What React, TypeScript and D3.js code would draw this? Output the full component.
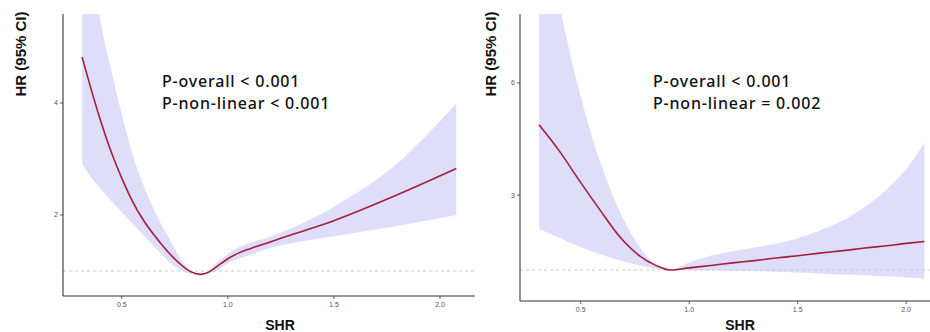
import React from "react";
import * as d3 from "d3";

// ---------- data ----------
const leftX = [0.313, 0.35, 0.394, 0.45, 0.5, 0.55, 0.6, 0.657, 0.728, 0.79, 0.83, 0.87, 0.91, 0.948, 1.0, 1.05, 1.105, 1.2, 1.31, 1.5, 1.78, 2.077];
const leftHR = [4.82, 4.32, 3.76, 3.13, 2.66, 2.25, 1.92, 1.62, 1.3, 1.08, 0.98, 0.94, 0.98, 1.08, 1.22, 1.32, 1.4, 1.52, 1.66, 1.9, 2.33, 2.83];
const leftUpper = [8.5, 7.0, 5.6, 4.6, 3.8, 3.1, 2.55, 2.05, 1.55, 1.15, 1.0, 0.95, 1.0, 1.15, 1.3, 1.42, 1.5, 1.61, 1.78, 2.15, 2.86, 3.99];
const leftLower = [2.92, 2.7, 2.5, 2.25, 2.05, 1.85, 1.65, 1.42, 1.15, 0.99, 0.94, 0.92, 0.96, 1.0, 1.14, 1.22, 1.29, 1.41, 1.5, 1.62, 1.79, 2.0];

const rightX = [0.308, 0.405, 0.497, 0.589, 0.681, 0.773, 0.843, 0.912, 1.0, 1.1, 1.2, 1.3, 1.4, 1.5, 1.6, 1.7, 1.8, 1.9, 2.0, 2.084];
const rightHR = [4.88, 4.15, 3.36, 2.6, 1.88, 1.37, 1.13, 1.0, 1.057, 1.12, 1.19, 1.25, 1.32, 1.38, 1.45, 1.51, 1.58, 1.64, 1.71, 1.76];
const rightUpper = [11.0, 8.0, 5.7, 3.9, 2.55, 1.6, 1.15, 1.0, 1.2, 1.38, 1.5, 1.6, 1.7, 1.85, 2.05, 2.3, 2.65, 3.1, 3.7, 4.4];
const rightLower = [2.1, 1.85, 1.62, 1.42, 1.25, 1.12, 1.04, 1.0, 0.99, 0.985, 0.98, 0.97, 0.95, 0.93, 0.9, 0.88, 0.86, 0.83, 0.8, 0.77];

const leftXTicks = [0.5, 1.0, 1.5, 2.0];
const leftYTicks = [2, 4];
const rightXTicks = [0.5, 1.0, 1.5, 2.0];
const rightYTicks = [3, 6];

const leftNotes = ["P-overall < 0.001", "P-non-linear < 0.001"];
const rightNotes = ["P-overall < 0.001", "P-non-linear = 0.002"];

const xTitle = "SHR";
const yTitle = "HR (95% CI)";

// ---------- styles ----------
const BAND = "#dedefa";
const LINE = "#a51d3d";
const AXIS = "#333333";
const TICKTXT = "#555555";

type PanelProps = {
  id: string;
  xs: number[];
  hr: number[];
  up: number[];
  lo: number[];
  xTicks: number[];
  yTicks: number[];
  notes: string[];
  xDomain: [number, number];
  xRange: [number, number];
  yDomain: [number, number];
  yRange: [number, number];
  noteX: number;
  yTitleX: number;
  xTitleX: number;
  xTickY: number;
};

function Panel(p: PanelProps) {
  const x = d3.scaleLinear().domain(p.xDomain).range(p.xRange);
  const y = d3.scaleLinear().domain(p.yDomain).range(p.yRange);
  const pts = p.xs.map((v, i) => ({ x: v, hr: p.hr[i], up: p.up[i], lo: p.lo[i] }));
  const area = d3
    .area<any>()
    .x((d) => x(d.x))
    .y0((d) => y(d.lo))
    .y1((d) => y(d.up))
    .curve(d3.curveMonotoneX);
  const line = d3
    .line<any>()
    .x((d) => x(d.x))
    .y((d) => y(d.hr))
    .curve(d3.curveMonotoneX);
  const [x0, x1] = p.xRange;
  const [yb, yt] = p.yRange;
  const fmt = d3.format(".1f");
  return (
    <g>
      <defs>
        <clipPath id={p.id}>
          <rect x={x0} y={yt} width={x1 - x0} height={yb - yt} />
        </clipPath>
      </defs>
      <g clipPath={`url(#${p.id})`}>
        <path d={area(pts) || ""} fill={BAND} />
        <line x1={x0} x2={x1} y1={y(1)} y2={y(1)} stroke="#c4c4c4" strokeWidth={0.9} strokeDasharray="3,3" />
        <path d={line(pts) || ""} fill="none" stroke={LINE} strokeWidth={1.6} />
      </g>
      <line x1={x0} x2={x0} y1={yt} y2={yb} stroke={AXIS} strokeWidth={1.1} />
      <line x1={x0} x2={x1} y1={yb} y2={yb} stroke={AXIS} strokeWidth={1.1} />
      {p.yTicks.map((t) => (
        <g key={"y" + t}>
          <line x1={x0 - 3} x2={x0} y1={y(t)} y2={y(t)} stroke={AXIS} strokeWidth={0.8} />
          <text x={x0 - 5} y={y(t)} dy="0.35em" textAnchor="end" fontSize={7} fill={TICKTXT} fontFamily="Liberation Sans, Arial, sans-serif">
            {t}
          </text>
        </g>
      ))}
      {p.xTicks.map((t) => (
        <g key={"x" + t}>
          <line x1={x(t)} x2={x(t)} y1={yb} y2={yb + 3} stroke={AXIS} strokeWidth={0.8} />
          <text x={x(t)} y={p.xTickY} dy="0.35em" textAnchor="middle" fontSize={7} fill={TICKTXT} fontFamily="Liberation Sans, Arial, sans-serif">
            {fmt(t)}
          </text>
        </g>
      ))}
      <text
        transform={`translate(${p.yTitleX},54) rotate(-90)`}
        textAnchor="middle"
        dy="0.35em"
        fontSize={15}
        fontWeight="bold"
        fill="#111"
        fontFamily="Liberation Sans, Arial, sans-serif"
      >
        {yTitle}
      </text>
      <text x={p.xTitleX} y={330} textAnchor="middle" fontSize={14} fontWeight="bold" fill="#111" fontFamily="Liberation Sans, Arial, sans-serif">
        {xTitle}
      </text>
      {p.notes.map((n, i) => (
        <text
          key={n}
          x={p.noteX}
          y={87 + i * 22}
          fontSize={16}
          fontWeight={500}
          letterSpacing={0.8}
          fill="#111"
          fontFamily="'Noto Sans', sans-serif"
        >
          {n}
        </text>
      ))}
    </g>
  );
}

export default function App() {
  return (
    <svg width={930} height={332} style={{ position: "absolute", left: 0, top: 0, background: "#fff" }}>
      <rect width={930} height={332} fill="#fff" />
      <Panel
        id="clipL"
        xs={leftX}
        hr={leftHR}
        up={leftUpper}
        lo={leftLower}
        xTicks={leftXTicks}
        yTicks={leftYTicks}
        notes={leftNotes}
        xDomain={[0.223, 2.165]}
        xRange={[63, 475]}
        yDomain={[0.554, 5.59]}
        yRange={[296, 14]}
        noteX={162}
        yTitleX={21}
        xTitleX={280}
        xTickY={305}
      />
      <Panel
        id="clipR"
        xs={rightX}
        hr={rightHR}
        up={rightUpper}
        lo={rightLower}
        xTicks={rightXTicks}
        yTicks={rightYTicks}
        notes={rightNotes}
        xDomain={[0.22, 2.11]}
        xRange={[520, 930]}
        yDomain={[0.171, 7.84]}
        yRange={[301, 14]}
        noteX={653}
        yTitleX={491}
        xTitleX={740}
        xTickY={310}
      />
    </svg>
  );
}
